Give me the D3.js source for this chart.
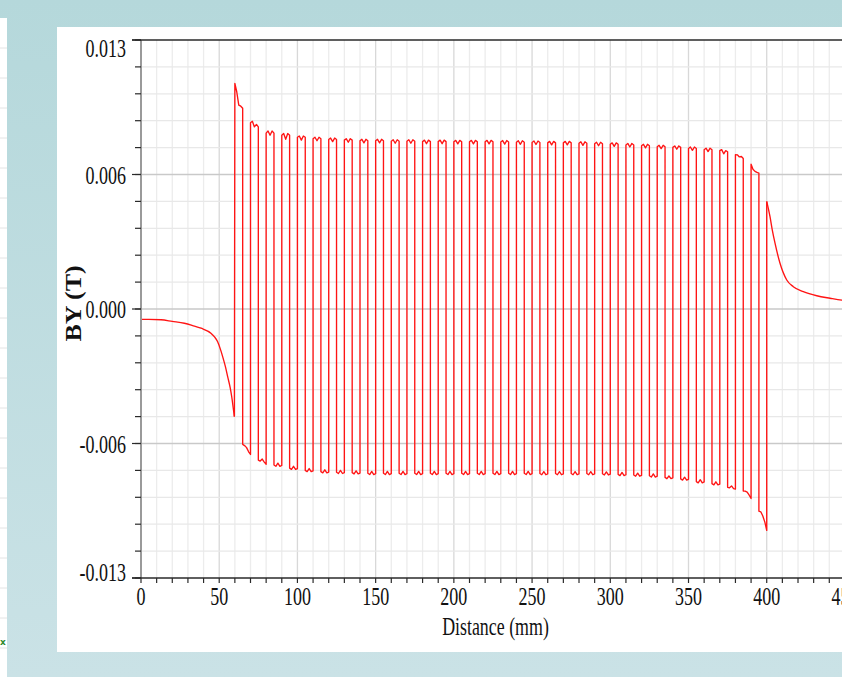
<!DOCTYPE html>
<html>
<head>
<meta charset="utf-8">
<script src="https://cdn.jsdelivr.net/npm/d3@7/dist/d3.min.js"></script>
<style>
  html, body { margin: 0; padding: 0; background: #ffffff; }
  svg { display: block; }
  .serif { font-family: "Liberation Serif", "Times New Roman", serif; fill: #111; }
</style>
</head>
<body>
<svg id="chart" width="842" height="677"></svg>
<script>
// ---- BY (T) along the scan line, distance in mm ----

// smooth approach before the first pole (0 – 60 mm)
const leadDistance = [0, 5, 12.8, 20, 27.7, 33, 38.4, 44.7, 47, 49, 51, 52.2, 54, 55.4, 57, 58, 59, 59.7];
const leadBY = [-0.0005, -0.0005, -0.00052, -0.0006, -0.00069, -0.0008, -0.00093, -0.00117, -0.00135, -0.00158, -0.002, -0.0023, -0.0028, -0.00327, -0.0038, -0.00424, -0.0048, -0.0052];

// start of each 10 mm pole pitch
const cycleStart = [60, 70, 80, 90, 100, 110, 120, 130, 140, 150, 160, 170, 180, 190, 200, 210, 220,
                    230, 240, 250, 260, 270, 280, 290, 300, 310, 320, 330, 340, 350, 360, 370, 380, 390];

// sample positions inside the positive and negative half of a pitch (mm from cycle start)
const highOffsets = [0, 1.2, 2.5, 3.8, 5];
const lowOffsets = [5, 6.2, 7.5, 8.8, 10];

// positive half-cycle samples (T)
const highHalf = [
  [0.0109, 0.0105, 0.00985, 0.0098, 0.0097],
  [0.0090, 0.00907, 0.0088, 0.00892, 0.0088],
  [0.0085, 0.0086, 0.0084, 0.0086, 0.0085],
  [0.0084, 0.00848, 0.0082, 0.00848, 0.0084],
  [0.0083, 0.00836, 0.00816, 0.00836, 0.0083],
  [0.00823, 0.0083, 0.00813, 0.0083, 0.00823],
  [0.00819, 0.00826, 0.00809, 0.00826, 0.00819],
  [0.00816, 0.00823, 0.00806, 0.00823, 0.00816],
  [0.00813, 0.0082, 0.00803, 0.0082, 0.00813],
  [0.00813, 0.0082, 0.00803, 0.0082, 0.00813],
  [0.00811, 0.00818, 0.00801, 0.00818, 0.00811],
  [0.00811, 0.00818, 0.00801, 0.00818, 0.00811],
  [0.00809, 0.00816, 0.00799, 0.00816, 0.00809],
  [0.00809, 0.00816, 0.00799, 0.00816, 0.00809],
  [0.00808, 0.00815, 0.00798, 0.00815, 0.00808],
  [0.00808, 0.00815, 0.00798, 0.00815, 0.00808],
  [0.00808, 0.00815, 0.00798, 0.00815, 0.00808],
  [0.00807, 0.00814, 0.00797, 0.00814, 0.00807],
  [0.00806, 0.00813, 0.00796, 0.00813, 0.00806],
  [0.00805, 0.00812, 0.00795, 0.00812, 0.00805],
  [0.00803, 0.0081, 0.00793, 0.0081, 0.00803],
  [0.00803, 0.0081, 0.00793, 0.0081, 0.00803],
  [0.00801, 0.00808, 0.00791, 0.00808, 0.00801],
  [0.00799, 0.00806, 0.00789, 0.00806, 0.00799],
  [0.00796, 0.00803, 0.00786, 0.00803, 0.00796],
  [0.00793, 0.0080, 0.00783, 0.0080, 0.00793],
  [0.00789, 0.00796, 0.00779, 0.00796, 0.00789],
  [0.00784, 0.00791, 0.00775, 0.00791, 0.00784],
  [0.00781, 0.00788, 0.00772, 0.00788, 0.00781],
  [0.00776, 0.00783, 0.00767, 0.00783, 0.00776],
  [0.0077, 0.00777, 0.00761, 0.00777, 0.0077],
  [0.00765, 0.0077, 0.0075, 0.00765, 0.0076],
  [0.00746, 0.00745, 0.00735, 0.00737, 0.00727],
  [0.0070, 0.00675, 0.00665, 0.0066, 0.00657]
];

// negative half-cycle samples (T)
const lowHalf = [
  [-0.00654, -0.0066, -0.0067, -0.0069, -0.00703],
  [-0.0073, -0.00735, -0.00725, -0.0074, -0.0075],
  [-0.00754, -0.0076, -0.00745, -0.0076, -0.00756],
  [-0.00769, -0.00775, -0.0076, -0.00775, -0.00771],
  [-0.0078, -0.00786, -0.00771, -0.00786, -0.00782],
  [-0.00786, -0.00792, -0.00777, -0.00792, -0.00788],
  [-0.00789, -0.00795, -0.0078, -0.00795, -0.00791],
  [-0.00791, -0.00797, -0.00782, -0.00797, -0.00793],
  [-0.00794, -0.008, -0.00785, -0.008, -0.00796],
  [-0.00794, -0.008, -0.00785, -0.008, -0.00796],
  [-0.00794, -0.008, -0.00785, -0.008, -0.00796],
  [-0.00794, -0.008, -0.00785, -0.008, -0.00796],
  [-0.00794, -0.008, -0.00785, -0.008, -0.00796],
  [-0.00794, -0.008, -0.00785, -0.008, -0.00796],
  [-0.00794, -0.008, -0.00785, -0.008, -0.00796],
  [-0.00794, -0.008, -0.00785, -0.008, -0.00796],
  [-0.00794, -0.008, -0.00785, -0.008, -0.00796],
  [-0.00794, -0.008, -0.00785, -0.008, -0.00796],
  [-0.00794, -0.008, -0.00785, -0.008, -0.00796],
  [-0.00795, -0.00801, -0.00786, -0.00801, -0.00797],
  [-0.00795, -0.00801, -0.00786, -0.00801, -0.00797],
  [-0.00795, -0.00801, -0.00786, -0.00801, -0.00797],
  [-0.00795, -0.00801, -0.00786, -0.00801, -0.00797],
  [-0.00796, -0.00802, -0.00787, -0.00802, -0.00798],
  [-0.00799, -0.00805, -0.0079, -0.00805, -0.00801],
  [-0.00802, -0.00808, -0.00793, -0.00808, -0.00804],
  [-0.00806, -0.00812, -0.00797, -0.00812, -0.00808],
  [-0.00814, -0.0082, -0.00807, -0.0082, -0.00816],
  [-0.00821, -0.00827, -0.00813, -0.00827, -0.00823],
  [-0.00834, -0.0084, -0.00825, -0.0084, -0.00836],
  [-0.00844, -0.0085, -0.00835, -0.0085, -0.00846],
  [-0.00862, -0.00864, -0.00855, -0.00868, -0.0087],
  [-0.0088, -0.0088, -0.00885, -0.0090, -0.00916],
  [-0.00977, -0.0098, -0.0100, -0.0103, -0.0107]
];

// decay after the last pole
const tailDistance = [400, 402.1, 403.6, 405.3, 408.5, 412.8, 417, 423.4, 432, 440.5, 448, 456];
const tailBY = [0.0052, 0.00446, 0.0038, 0.00318, 0.00221, 0.0014, 0.00108, 0.00084, 0.00064, 0.00052, 0.00043, 0.00039];

// axes
const xDomain = [0, 456];
const yDomain = [-0.013, 0.013];
const xTickValues = [0, 50, 100, 150, 200, 250, 300, 350, 400, 450];
const yTickValues = [-0.013, -0.0065, 0, 0.0065, 0.013];
const yTickLabels = ["-0.013", "-0.006", "0.000", "0.006", "0.013"];
const xTitle = "Distance (mm)";
const yTitle = "BY (T)";

// ---- drawing ----
const svg = d3.select("#chart");
const W = 842, H = 677;

const defs = svg.append("defs");
const bg = defs.append("linearGradient").attr("id", "frameBg")
  .attr("x1", 0).attr("y1", 0).attr("x2", 0).attr("y2", 1);
bg.append("stop").attr("offset", "0%").attr("stop-color", "#b5d8db");
bg.append("stop").attr("offset", "100%").attr("stop-color", "#cae2e6");

svg.append("rect").attr("width", W).attr("height", H).attr("fill", "url(#frameBg)");

// neighbouring window strip on the far left
const strip = svg.append("g");
strip.append("rect").attr("x", 0).attr("y", 18).attr("width", 7).attr("height", H - 18).attr("fill", "#ffffff");
d3.range(48, 660, 30).forEach(yy => {
  strip.append("line").attr("x1", 0).attr("x2", 7).attr("y1", yy).attr("y2", yy)
    .attr("stroke", "#e4e4e4").attr("stroke-width", 1);
});
svg.append("text").attr("x", 0).attr("y", 645).text("x")
  .attr("font-family", "DejaVu Sans, sans-serif").attr("font-size", 9)
  .attr("font-weight", "bold").attr("fill", "#2d8a2d");

// chart panel
svg.append("rect").attr("x", 57).attr("y", 27).attr("width", W - 57).attr("height", 625).attr("fill", "#ffffff");

const plot = { left: 141, top: 40, bottom: 578 };
const x = d3.scaleLinear().domain(xDomain).range([plot.left, plot.left + (xDomain[1] - xDomain[0]) * 1.5643]);
const y = d3.scaleLinear().domain(yDomain).range([plot.bottom, plot.top]);

// grid
const grid = svg.append("g");
const xMinor = d3.range(10, xDomain[1] + 0.1, 10);
grid.selectAll(".vg").data(xMinor).join("line")
  .attr("x1", d => x(d)).attr("x2", d => x(d))
  .attr("y1", plot.top).attr("y2", plot.bottom)
  .attr("stroke", d => d % 50 === 0 ? "#d8d8d8" : "#ececec")
  .attr("stroke-width", 1.3);

const yMinor = d3.range(0, 21).map(i => -0.013 + i * 0.0013);
grid.selectAll(".hg").data(yMinor.slice(1, -1)).join("line")
  .attr("x1", plot.left).attr("x2", W)
  .attr("y1", d => y(d)).attr("y2", d => y(d))
  .attr("stroke", (d, i) => (i + 1) % 5 === 0 ? "#c9c9c9" : "#e8e8e8")
  .attr("stroke-width", 1.3);

// signal: smooth lead-in, square-wave section, smooth decay
const leadPts = leadDistance.map((d, i) => [d, leadBY[i]]);
const polePts = [leadPts[leadPts.length - 1]];
cycleStart.forEach((s, k) => {
  highOffsets.forEach((o, i) => polePts.push([s + o, highHalf[k][i]]));
  lowOffsets.forEach((o, i) => polePts.push([s + o, lowHalf[k][i]]));
});
polePts.push([tailDistance[0], tailBY[0]]);
const tailPts = tailDistance.map((d, i) => [d, tailBY[i]]);

svg.append("clipPath").attr("id", "plotClip").append("rect")
  .attr("x", plot.left).attr("y", plot.top - 2).attr("width", W - plot.left).attr("height", plot.bottom - plot.top + 4);

const smooth = d3.line().x(d => x(d[0])).y(d => y(d[1])).curve(d3.curveMonotoneX);
const straight = d3.line().x(d => x(d[0])).y(d => y(d[1]));
const signal = svg.append("g").attr("clip-path", "url(#plotClip)")
  .attr("fill", "none").attr("stroke", "#ff1414").attr("stroke-width", 1.35)
  .attr("stroke-linejoin", "round");
signal.append("path").attr("d", smooth(leadPts));
signal.append("path").attr("d", straight(polePts));
signal.append("path").attr("d", smooth(tailPts));

// axes lines
const ax = svg.append("g");
ax.append("line").attr("x1", plot.left).attr("x2", plot.left).attr("y1", plot.top).attr("y2", plot.bottom)
  .attr("stroke", "#9a9a9a").attr("stroke-width", 2);
ax.append("line").attr("x1", 132).attr("x2", W).attr("y1", plot.top).attr("y2", plot.top)
  .attr("stroke", "#2a2a2a").attr("stroke-width", 1.5);
ax.append("line").attr("x1", 132).attr("x2", W).attr("y1", plot.bottom).attr("y2", plot.bottom)
  .attr("stroke", "#2a2a2a").attr("stroke-width", 1.5);

// y ticks
ax.selectAll(".ytm").data(yMinor).join("line")
  .attr("x1", plot.left - 6).attr("x2", plot.left)
  .attr("y1", d => y(d)).attr("y2", d => y(d))
  .attr("stroke", "#2a2a2a").attr("stroke-width", 1.2);
ax.selectAll(".ytM").data(yTickValues).join("line")
  .attr("x1", plot.left - 9).attr("x2", plot.left)
  .attr("y1", d => y(d)).attr("y2", d => y(d))
  .attr("stroke", "#2a2a2a").attr("stroke-width", 1.2);

// x ticks
ax.selectAll(".xt").data(d3.range(0, xDomain[1] + 0.1, 10)).join("line")
  .attr("x1", d => x(d)).attr("x2", d => x(d))
  .attr("y1", plot.bottom).attr("y2", plot.bottom + 5)
  .attr("stroke", "#2a2a2a").attr("stroke-width", 1.2);

// tick labels (narrow serif)
const squeeze = 0.72;
yTickValues.forEach((v, i) => {
  let base = y(v) + 9;
  if (i === yTickValues.length - 1) base = plot.top + 17;
  if (i === 0) base = plot.bottom + 2.5;
  svg.append("g").attr("transform", `translate(126,${base}) scale(${squeeze},1)`)
    .append("text").attr("class", "serif").attr("text-anchor", "end")
    .attr("font-size", 25).text(yTickLabels[i]);
});
xTickValues.forEach(v => {
  svg.append("g").attr("transform", `translate(${x(v)},605) scale(${squeeze},1)`)
    .append("text").attr("class", "serif").attr("text-anchor", "middle")
    .attr("font-size", 25).text(d3.format("d")(v));
});

// axis titles
svg.append("g").attr("transform", `translate(495.5,635) scale(0.73,1)`)
  .append("text").attr("class", "serif").attr("text-anchor", "middle")
  .attr("font-size", 24.5).text(xTitle);
svg.append("g").attr("transform", "translate(72.5,303.5) scale(0.88,1) rotate(-90)")
  .append("text").attr("class", "serif").attr("text-anchor", "middle")
  .attr("dy", "0.35em").attr("font-size", 26).attr("font-weight", "bold").text(yTitle);
</script>
</body>
</html>
